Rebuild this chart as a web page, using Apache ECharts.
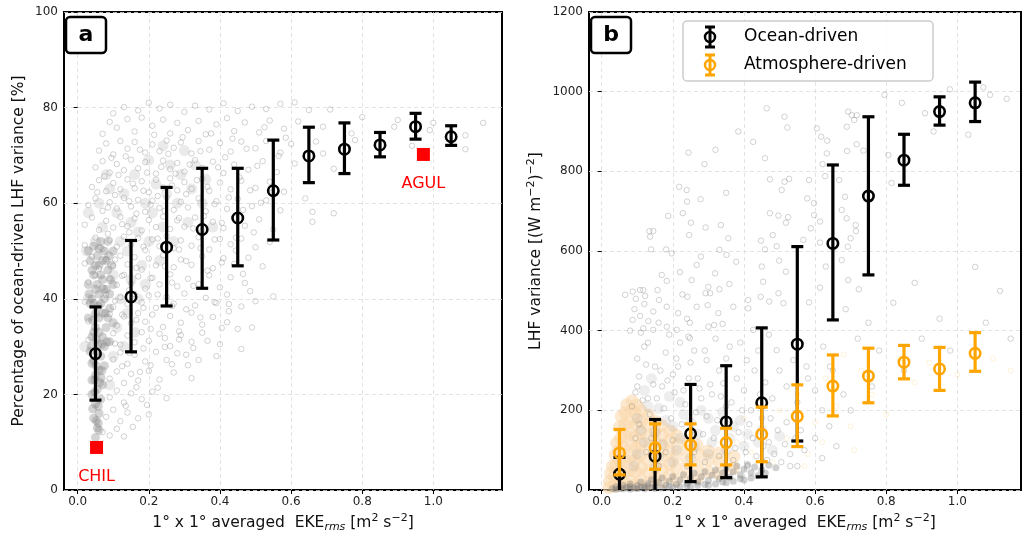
<!DOCTYPE html>
<html><head><meta charset="utf-8">
<script src="https://cdn.jsdelivr.net/npm/echarts@6/dist/echarts.min.js"></script>
<style>html,body{margin:0;padding:0;background:#fff}#c{width:1023px;height:539px}</style>
</head><body><div id="c"></div>
<script>
// ---- DATA ----
const binX = [0.05,0.15,0.25,0.35,0.45,0.55,0.65,0.75,0.85,0.95,1.05];
// panel a: ocean-driven fraction [%]
const aMean = [28.5,40.4,50.8,54.5,56.9,62.6,69.9,71.3,72.2,76.0,73.9];
const aLo   = [18.8,28.9,38.5,42.2,46.9,52.3,64.3,66.2,69.7,73.4,72.1];
const aHi   = [38.3,52.2,63.3,67.3,67.3,73.2,75.9,76.8,74.8,78.8,76.2];
// panel b: LHF variance
const bOceanMean = [40,85,141,171,219,366,619,738,828,950,972];
const bOceanLo   = [-8,-10,21,31,33,123,427,540,765,916,925];
const bOceanHi   = [82,177,265,312,407,611,816,937,893,987,1024];
const bAtmMean = [93,106,113,119,140,185,261,286,321,304,343];
const bAtmLo   = [38,52,63,63,71,109,186,219,279,250,298];
const bAtmHi   = [152,166,166,155,208,264,339,356,363,358,395];
const sites = [{name:'AGUL', x:0.972, y:70.2},{name:'CHIL', x:0.053, y:8.9}];
const xTicks = [0,0.2,0.4,0.6,0.8,1.0];

// background grid-cell scatter
const aCore = [[0.05,11],[0.055,13],[0.06,12.5],[0.045,15],[0.06,16],[0.05,18],[0.065,19],[0.04,20],[0.055,21],[0.07,22],[0.04,23],[0.06,25],[0.075,26],[0.045,27],[0.035,29],[0.055,29],[0.075,30],[0.09,31],[0.04,32],[0.06,33],[0.08,34],[0.1,35],[0.03,36],[0.05,37],[0.07,37],[0.09,38],[0.04,40],[0.06,41],[0.08,42],[0.1,43],[0.03,43],[0.045,45],[0.065,45],[0.085,46],[0.035,48],[0.055,49],[0.075,50],[0.05,24],[0.065,28],[0.05,34],[0.065,39],[0.055,43],[0.045,39],
[0.052,14.5],[0.058,17.5],[0.048,20.5],[0.062,22.5],[0.052,26],[0.068,25],[0.04,26.5],[0.058,30.5],[0.045,33],[0.07,32],[0.085,36],[0.035,39],[0.06,36],[0.075,40],[0.09,41],[0.05,42],[0.07,44],[0.04,46],[0.06,47],[0.08,48],[0.095,47],[0.045,51],[0.065,52],[0.085,52],
[0.042,17],[0.058,14],[0.048,23],[0.066,23.5],[0.038,30],[0.068,30.5],[0.082,31],[0.052,31.5],[0.042,35.5],[0.078,37],[0.058,38.5],[0.032,41],[0.072,42],[0.092,44],[0.05,47],[0.07,48],[0.088,49],[0.03,50],[0.06,50.5],[0.1,50]];
const aMid = [[0.02,30],[0.03,40],[0.025,50],[0.03,58],[0.09,22],[0.1,28],[0.11,34],[0.12,40],[0.1,45],[0.12,52],[0.11,58],[0.09,63],[0.13,30],[0.14,37],[0.15,44],[0.14,50],[0.15,56],[0.13,62],[0.17,40],[0.18,47],[0.17,54],[0.19,60],[0.16,66],[0.2,52],[0.21,58],[0.22,64],[0.2,69],[0.24,55],[0.25,62],[0.26,68],[0.24,72],[0.28,60],[0.29,66],[0.3,71],[0.32,63],[0.33,68],[0.35,60],[0.07,55],[0.06,60],[0.08,66],[0.05,52],[0.19,43],[0.23,48],[0.27,52],[0.31,56],[0.36,65],[0.38,55],[0.16,33]];
const aSparse = [[0.1,78.8],[0.13,80.1],[0.17,79.4],[0.2,81],[0.23,79.8],[0.26,80.6],[0.3,79.1],[0.33,80.4],[0.37,79.6],[0.41,80.9],[0.45,79.3],[0.49,80.2],[0.53,79.7],[0.57,80.8],[0.61,81.1],[0.65,79.5],[0.71,79.6],[0.8,78],[0.9,77.4],[1.0,76.8],[1.14,76.8],
[0.07,74.5],[0.09,77],[0.11,75.8],[0.14,77.6],[0.16,75],[0.18,77.9],[0.21,76.2],[0.24,77.5],[0.26,74.6],[0.28,76.8],[0.31,75.3],[0.34,77.2],[0.36,74.4],[0.39,76.5],[0.42,77.8],[0.44,75.1],[0.47,76.9],[0.51,74.8],[0.54,77.3],[0.58,75.6],[0.62,77.1],[0.69,76],[0.77,74.6],[0.89,76],[0.99,75.3],[1.09,74.2],
[0.06,71],[0.08,72.5],[0.1,70.2],[0.12,73],[0.14,71.4],[0.16,72.8],[0.19,70.6],[0.21,72.3],[0.23,70.9],[0.25,73.1],[0.27,71.6],[0.29,72.7],[0.32,70.4],[0.34,73],[0.37,71.2],[0.4,72.6],[0.43,70.8],[0.46,72.9],[0.5,71.5],[0.53,73],[0.57,70.6],[0.6,72.4],[0.67,72.9],[0.69,70.4],[0.78,73.2],[0.94,72],[1.09,71.3],
[0.05,67.5],[0.07,68.8],[0.09,66.4],[0.11,68.2],[0.13,66.9],[0.15,69.1],[0.17,67.3],[0.19,68.6],[0.22,66.2],[0.24,68.9],[0.26,67.1],[0.28,68.4],[0.3,66.6],[0.33,69],[0.35,67.4],[0.38,68.7],[0.41,66.3],[0.44,68.1],[0.48,67],[0.52,68.8],[0.56,66.5],[0.61,68.3],[0.72,67.2],
[0.04,63.4],[0.06,64.8],[0.08,62.5],[0.1,64.2],[0.12,62.9],[0.14,65],[0.16,63.1],[0.18,64.6],[0.2,62.3],[0.22,64.9],[0.24,63.3],[0.26,65.2],[0.28,62.7],[0.3,64.4],[0.32,63],[0.35,65.1],[0.37,62.6],[0.4,64.3],[0.43,62.9],[0.46,64.7],[0.5,63.2],[0.54,64.5],[0.58,62.4],[0.64,61],
[0.03,59.6],[0.05,61],[0.07,58.4],[0.09,60.2],[0.11,58.9],[0.13,61.1],[0.15,59.3],[0.17,60.7],[0.19,58.2],[0.21,60.5],[0.23,59],[0.25,61.2],[0.27,58.6],[0.29,60.3],[0.31,59.1],[0.34,61],[0.36,58.3],[0.39,60.4],[0.42,58.8],[0.45,60.9],[0.49,59.4],[0.53,60.6],[0.57,58.5],[0.66,58.2],[0.72,57.9],
[0.02,55.5],[0.04,57],[0.06,54.4],[0.08,56.3],[0.1,54.9],[0.12,57.1],[0.14,55.2],[0.16,56.8],[0.18,54.3],[0.2,56.5],[0.22,55],[0.24,57.2],[0.26,54.6],[0.28,56.4],[0.3,55.1],[0.33,57],[0.35,54.2],[0.38,56.1],[0.41,54.8],[0.44,56.9],[0.47,55.3],[0.51,56.6],[0.55,54.5],[0.66,56.1],
[0.02,51.2],[0.05,52.8],[0.07,50.4],[0.09,52.3],[0.11,50.9],[0.13,53],[0.15,51.3],[0.17,52.7],[0.19,50.2],[0.21,52.4],[0.23,51],[0.25,53.1],[0.27,50.6],[0.29,52.2],[0.32,51.1],[0.34,52.9],[0.37,50.3],[0.4,52.5],[0.43,51.4],[0.46,52.6],[0.5,50.8],[0.54,51.9],
[0.02,47.4],[0.04,48.8],[0.06,46.3],[0.08,48.3],[0.1,46.9],[0.12,49],[0.14,47.2],[0.16,48.7],[0.18,46.1],[0.2,48.4],[0.22,47],[0.24,49.1],[0.27,46.6],[0.29,48.2],[0.32,47.1],[0.35,48.9],[0.38,46.4],[0.41,48.5],[0.44,47.3],[0.48,48.6],[0.52,46.8],
[0.03,43.5],[0.05,44.9],[0.07,42.4],[0.09,44.3],[0.11,42.9],[0.13,45],[0.15,43.2],[0.17,44.7],[0.19,42.1],[0.21,44.4],[0.23,43],[0.26,45.1],[0.28,42.6],[0.31,44.2],[0.34,43.1],[0.37,44.9],[0.4,42.4],[0.43,44.5],[0.47,43.3],[0.55,40.5],
[0.02,39.4],[0.08,40.8],[0.1,38.3],[0.12,40.3],[0.14,38.9],[0.16,41],[0.18,39.2],[0.2,40.7],[0.22,38.1],[0.25,40.4],[0.27,39],[0.3,41.1],[0.33,38.6],[0.36,40.2],[0.39,39.1],[0.42,40.9],[0.46,38.4],[0.5,39.5],
[0.03,35.3],[0.09,36.8],[0.11,34.4],[0.13,36.3],[0.15,34.9],[0.17,37],[0.19,35.2],[0.21,36.7],[0.24,34.1],[0.26,36.4],[0.29,35],[0.32,37.1],[0.35,34.6],[0.38,36.2],[0.42,35.1],[0.45,33.7],[0.49,34],
[0.03,31.4],[0.1,32.8],[0.12,30.4],[0.14,32.3],[0.16,30.9],[0.18,33],[0.2,31.2],[0.23,32.7],[0.26,30.1],[0.29,32.4],[0.32,31],[0.35,32.9],[0.4,30.5],[0.46,29.5],
[0.1,27.3],[0.12,28.8],[0.14,26.4],[0.16,28.3],[0.19,26.9],[0.22,28.9],[0.25,27.2],[0.28,28.6],[0.31,26.1],[0.34,27.2],[0.39,28],
[0.09,23.3],[0.11,24.8],[0.13,22.4],[0.15,24.3],[0.17,22.9],[0.2,24.9],[0.23,23.1],[0.27,24.6],[0.32,23.4],
[0.09,19.4],[0.11,20.8],[0.13,18.3],[0.15,20.2],[0.18,19],[0.21,20.6],[0.25,19.2],
[0.08,15.3],[0.1,16.8],[0.12,14.4],[0.14,16.2],[0.17,15],[0.2,15.8],
[0.07,12.1],[0.09,11.4],[0.11,12.8],[0.13,11.2]];
const aSparse2 = [[0.055,62.3],[0.075,65.6],[0.085,59.1],[0.095,69.5],[0.105,61.7],[0.115,65.9],[0.125,55.6],[0.135,69.8],[0.145,60.4],[0.155,64.1],[0.165,57.8],[0.175,71.2],[0.185,62.6],[0.195,66.4],[0.205,59.7],[0.215,74.3],[0.225,61.5],[0.235,67.6],[0.245,58.4],[0.255,70.3],[0.265,63.7],[0.275,66.2],[0.285,56.9],[0.295,73.8],[0.305,61.9],[0.315,68.1],[0.325,54.7],[0.335,64.8],[0.345,70.9],[0.355,57.3],[0.365,63.4],[0.375,74.6],[0.385,59.8],[0.395,67.5],[0.405,55.9],[0.415,69.6],[0.425,61.2],[0.435,73.5],[0.445,52.8],[0.455,65.4],[0.465,58.6],[0.475,71.4],[0.485,62.7],[0.495,53.9],[0.505,67.8],[0.515,60.1],[0.525,75.9],[0.545,62.2],[0.565,69.9],[0.585,73.7],
[0.065,50.7],[0.085,53.6],[0.105,48.2],[0.125,44.8],[0.145,53.9],[0.165,46.5],[0.185,50.9],[0.205,44.3],[0.225,52.6],[0.245,46.8],[0.265,43.4],[0.285,50.3],[0.305,47.9],[0.325,42.7],[0.345,50.6],[0.365,45.9],[0.385,52.4],[0.405,47.6],[0.425,38.9],[0.445,50.1],[0.465,45.2],[0.485,41.6],
[0.105,39.6],[0.125,36.7],[0.145,41.8],[0.165,35.6],[0.185,38.1],[0.205,33.7],[0.225,40.9],[0.245,31.8],[0.265,38.5],[0.285,33.2],[0.305,37.8],[0.325,29.7],[0.345,36.1],[0.365,31.2],[0.385,39.3],[0.405,33.9],[0.425,37.4],
[0.105,30.6],[0.125,25.9],[0.145,28.7],[0.165,21.5],[0.185,29.6],[0.205,26.1],[0.225,21.4],[0.245,29.9],[0.265,26.3],[0.285,31.5],[0.305,28.3],[0.135,17.6],[0.155,13.2],[0.175,24.7],[0.195,17.8]];

const bAtmDense = [[0.02,6],[0.022,22],[0.025,42],[0.03,60],[0.035,10],[0.036,34],[0.04,62],[0.038,88],[0.042,118],[0.05,12],[0.05,40],[0.052,70],[0.048,100],[0.053,130],[0.05,158],[0.055,185],[0.065,16],[0.064,45],[0.066,76],[0.063,106],[0.067,136],[0.064,166],[0.066,195],[0.07,214],[0.08,22],[0.081,50],[0.079,80],[0.082,110],[0.08,141],[0.078,170],[0.083,200],[0.085,224],[0.095,14],[0.096,46],[0.094,75],[0.097,106],[0.095,134],[0.096,166],[0.094,194],[0.098,214],[0.11,26],[0.112,56],[0.108,86],[0.111,116],[0.11,146],[0.113,174],[0.11,200],[0.13,15],[0.131,45],[0.129,76],[0.132,105],[0.13,134],[0.128,164],[0.132,188],[0.15,30],[0.152,60],[0.148,90],[0.151,120],[0.15,148],[0.152,172],[0.17,20],[0.171,50],[0.169,80],[0.172,110],[0.17,138],[0.168,162],[0.19,35],[0.191,65],[0.189,95],[0.19,124],[0.192,148],[0.21,25],[0.211,55],[0.209,85],[0.212,114],[0.21,138],[0.24,40],[0.241,70],[0.239,98],[0.242,123],[0.27,30],[0.27,60],[0.272,90],[0.268,113],[0.3,45],[0.301,74],[0.299,98],[0.33,40],[0.331,70],[0.329,93],[0.37,55],[0.372,84]];
const bAtmSparse = [[0.38,120],[0.42,95],[0.45,150],[0.48,70],[0.5,200],[0.52,130],[0.55,240],[0.58,90],[0.6,170],[0.63,280],[0.66,210],[0.7,160],[0.73,300],[0.76,240],[0.8,190],[0.84,330],[0.88,270],[0.92,320],[1.0,290],[1.1,330],[1.15,300],[0.4,180],[0.35,150],[0.44,220],[0.62,120],[0.68,340],[0.71,100],[0.57,60]];
const bGrayDense = [[0.03,3],[0.04,8],[0.05,4],[0.06,12],[0.07,6],[0.08,15],[0.09,5],[0.1,11],[0.11,20],[0.12,8],[0.13,16],[0.14,26],[0.15,10],[0.16,19],[0.17,30],[0.18,12],[0.19,22],[0.2,34],[0.21,14],[0.22,25],[0.23,38],[0.24,17],[0.25,29],[0.26,42],[0.27,20],[0.28,33],[0.29,46],[0.3,24],[0.31,37],[0.32,50],[0.33,28],[0.34,42],[0.35,55],[0.36,32],[0.37,46],[0.38,60],[0.39,38],[0.4,52],[0.41,64],[0.42,44],[0.43,58],[0.45,50],[0.47,62],[0.49,56],[0.1,3],[0.15,4],[0.2,6],[0.25,9],[0.3,12],[0.06,3],[0.35,18],[0.4,25],
[0.04,2],[0.08,2],[0.12,3],[0.14,6],[0.17,5],[0.19,8],[0.22,8],[0.24,10],[0.27,12],[0.29,14],[0.32,15],[0.34,20],[0.37,22],[0.39,28],[0.42,30],[0.44,36],[0.46,42],[0.08,8],[0.11,7],[0.13,10]];
const bGrayMid = [[0.09,60],[0.1,90],[0.12,120],[0.11,150],[0.1,180],[0.13,210],[0.12,250],[0.14,280],[0.15,55],[0.16,85],[0.17,115],[0.15,145],[0.18,175],[0.16,205],[0.19,235],[0.2,70],[0.21,100],[0.22,130],[0.2,160],[0.23,190],[0.22,220],[0.25,80],[0.26,110],[0.27,140],[0.25,170],[0.28,200],[0.3,90],[0.31,120],[0.32,150],[0.3,180],[0.35,100],[0.36,130],[0.37,160],[0.34,195],[0.4,110],[0.41,140],[0.39,175],[0.44,120],[0.45,150],[0.48,100],[0.5,135]];
const bGraySparse = [[0.464,958],[0.384,900],[0.514,937],[0.522,910],[0.426,874],[0.459,833],[0.244,847],[0.32,854],[0.289,818],[0.218,761],[0.239,753],[0.24,724],[0.278,730],[0.35,746],[0.187,688],[0.228,695],[0.134,650],[0.145,650],[0.136,636],[0.139,604],[0.181,604],[0.197,594],[0.251,671],[0.246,640],[0.292,659],[0.335,665],[0.356,632],[0.331,603],[0.351,590],[0.378,573],[0.279,586],[0.267,565],[0.473,695],[0.497,689],[0.481,640],[0.448,626],[0.459,604],[0.514,774],[0.506,753],[0.527,781],[0.473,780],[0.583,778],[0.518,671],[0.524,685],[0.492,612],[0.45,561],[0.499,576],[0.518,548],[0.605,908],[0.617,887],[0.634,877],[0.633,845],[0.621,818],[0.689,912],[0.703,941],[0.717,941],[0.71,929],[0.717,868],[0.736,852],[0.69,851],[0.628,788],[0.668,778],[0.684,736],[0.675,703],[0.689,682],[0.597,720],[0.578,732],[0.588,657],[0.597,690],[0.614,674],[0.567,628],[0.614,621],[0.714,665],[0.715,650],[0.70,632],[0.692,611],[0.675,577],[0.63,561],[0.614,508],[0.693,527],[0.686,454],[0.723,504],[0.583,471],
[0.066,490],[0.087,498],[0.108,502],[0.117,502],[0.096,480],[0.122,487],[0.092,454],[0.108,437],[0.087,427],[0.12,467],[0.145,448],[0.157,502],[0.161,477],[0.169,540],[0.183,525],[0.131,424],[0.145,402],[0.183,410],[0.215,444],[0.227,491],[0.241,485],[0.22,547],[0.253,527],[0.267,460],[0.292,494],[0.3,510],[0.319,544],[0.331,504],[0.298,464],[0.328,444],[0.359,517],[0.316,414],[0.34,417],[0.248,420],[0.211,402],[0.244,385],[0.412,477],[0.412,456],[0.447,485],[0.471,473],[0.497,494],
[0.979,1006],[1.073,1011],[1.092,992],[1.139,982],[1.031,892],[0.933,900],[0.844,972],[0.795,992],[0.909,946],[0.806,841],[0.815,771],[0.693,950],
[0.183,460],[0.117,406],[0.248,381],[0.305,494],[0.37,460],[0.454,523],[0.426,402],[0.492,351],[0.539,326],[0.576,310],[0.623,360],[0.642,310],[0.511,469],[0.408,326],[0.295,326],[0.342,268],
[0.1,330],[0.12,360],[0.15,310],[0.18,345],[0.2,290],[0.22,370],[0.25,320],[0.27,280],[0.29,350],[0.33,300],[0.36,360],[0.38,280],[0.4,250],[0.43,300],[0.46,270],[0.48,230],[0.5,300],[0.52,260],[0.55,220],[0.58,280],[0.6,250],[0.62,200],[0.65,300],[0.68,240],[0.72,380],[0.75,420],[0.78,350],[0.82,470],[0.88,520],[0.95,430],[1.05,560],[1.12,500],[0.08,400],[0.1,260],[0.13,230],[0.17,260],[0.23,250],[0.28,230],[0.31,240],[0.35,210],[0.42,200],[0.45,180],[0.52,170],[0.56,150],[0.6,130],[0.64,160],[0.7,200],[0.76,260],[0.85,300],[0.9,380],[0.98,350],[1.08,420],[1.15,380],[0.47,120],[0.53,90],[0.57,100],[0.62,80],[0.66,110],[0.55,60]];
const bGraySparse2 = [[0.085,210],[0.095,245],[0.105,285],[0.115,225],[0.125,315],[0.135,190],[0.145,265],[0.155,230],[0.165,300],[0.175,205],[0.185,275],[0.195,180],[0.205,245],[0.215,310],[0.225,165],[0.235,215],[0.245,280],[0.255,150],[0.265,195],[0.275,255],[0.285,140],[0.295,185],[0.305,265],[0.315,130],[0.325,175],[0.335,235],[0.345,120],[0.355,165],[0.365,220],[0.375,105],[0.385,145],[0.395,200],[0.405,95],[0.415,165],[0.425,130],[0.435,85],[0.445,240],[0.455,110],[0.465,75],[0.475,180],[0.485,90],[0.495,150],[0.505,70],[0.515,115],[0.53,60],[0.545,130],[0.11,395],[0.13,370],[0.16,420],[0.19,390],[0.21,330],[0.24,430],[0.26,350],[0.3,410],[0.32,380],[0.35,330],[0.39,370],[0.44,350],[0.47,390],[0.095,130],[0.105,165],[0.125,95],[0.14,130],[0.16,60],[0.18,95],[0.2,125],[0.24,60],[0.26,95],[0.29,70],[0.33,85],[0.37,75],[0.41,60]];

// ---- CHART ----
const FONT = 'DejaVu Sans';
const chart = echarts.init(document.getElementById('c'), null, {renderer:'canvas'});
const xTitle = '1° x 1° averaged  EKE{sub|rms} [m{sup|2} s{sup|−2}]';
const richT = {
  sub:{fontSize:11, fontStyle:'italic', fontFamily:FONT, color:'#111', verticalAlign:'bottom', lineHeight:20},
  sup:{fontSize:11, fontFamily:FONT, color:'#111', verticalAlign:'top', lineHeight:20}
};
const gridLine = {show:true, lineStyle:{color:'#dcdcdc', type:[4,3], width:0.8}};
function xAxisCfg(idx, min, max){
  return {gridIndex:idx, type:'value', min:min, max:max,
    name:xTitle, nameLocation:'middle', nameGap:23,
    nameTextStyle:{fontFamily:FONT, fontSize:15.5, color:'#111', rich:richT, lineHeight:20},
    axisLine:{show:false},
    axisTick:{show:true, customValues:xTicks, length:4, lineStyle:{color:'#000', width:1}},
    axisLabel:{customValues:xTicks, fontFamily:FONT, fontSize:12, color:'#222', margin:6, formatter:v=>v.toFixed(1)},
    splitLine:gridLine};
}
function yAxisCfg(idx, max, interval, name, gap){
  return {gridIndex:idx, type:'value', min:0, max:max, interval:interval,
    name:name, nameLocation:'middle', nameGap:gap,
    nameTextStyle:{fontFamily:FONT, fontSize:15.5, color:'#111', rich:richT, lineHeight:20},
    axisLine:{show:false},
    axisTick:{show:true, length:4, lineStyle:{color:'#000', width:1}},
    axisLabel:{fontFamily:FONT, fontSize:12, color:'#222', margin:6, formatter:v=>String(v)},
    splitLine:gridLine};
}
function errSeries(xi, yi, mean, lo, hi, color, z){
  const data = binX.map((x,i)=>[x, mean[i], lo[i], hi[i]]);
  return {type:'custom', xAxisIndex:xi, yAxisIndex:yi, clip:true, z:z, silent:true,
    data:data,
    renderItem:function(params, api){
      const x=api.value(0), m=api.value(1), l=api.value(2), h=api.value(3);
      const pl=api.coord([x,l]), ph=api.coord([x,h]), pm=api.coord([x,m]);
      const cw=6;
      return {type:'group', children:[
        {type:'line', shape:{x1:pl[0],y1:pl[1],x2:ph[0],y2:ph[1]}, style:{stroke:color, lineWidth:3.2}},
        {type:'line', shape:{x1:pl[0]-cw,y1:pl[1],x2:pl[0]+cw,y2:pl[1]}, style:{stroke:color, lineWidth:3.2}},
        {type:'line', shape:{x1:ph[0]-cw,y1:ph[1],x2:ph[0]+cw,y2:ph[1]}, style:{stroke:color, lineWidth:3.2}},
        {type:'circle', shape:{cx:pm[0], cy:pm[1], r:5.2}, style:{fill:'none', stroke:color, lineWidth:2.6}}
      ]};
    }};
}
function scat(xi, yi, data, opt){
  return Object.assign({type:'scatter', xAxisIndex:xi, yAxisIndex:yi, data:data, silent:true, animation:false, symbol:'circle'}, opt);
}
const hollowGray = {symbolSize:5.5, itemStyle:{color:'rgba(0,0,0,0)', borderColor:'rgba(120,120,120,0.33)', borderWidth:1, opacity:1}, z:1};
function legendGlyph(y, color){
  const zz = 102;
  return [
    {type:'line', z:zz, shape:{x1:710,y1:y-10,x2:710,y2:y+10}, style:{stroke:color, lineWidth:3}},
    {type:'line', z:zz, shape:{x1:705,y1:y-10,x2:715,y2:y-10}, style:{stroke:color, lineWidth:3}},
    {type:'line', z:zz, shape:{x1:705,y1:y+10,x2:715,y2:y+10}, style:{stroke:color, lineWidth:3}},
    {type:'circle', z:zz, shape:{cx:710,cy:y,r:5}, style:{fill:'none', stroke:color, lineWidth:2.5}}
  ];
}

const option = {
  animation:false,
  backgroundColor:'#fff',
  grid:[
    {left:64, top:12, width:438, height:478, show:true, borderColor:'#000', borderWidth:2, backgroundColor:'rgba(0,0,0,0)'},
    {left:589, top:12, width:432, height:478, show:true, borderColor:'#000', borderWidth:2, backgroundColor:'rgba(0,0,0,0)'}
  ],
  xAxis:[xAxisCfg(0,-0.0385,1.193), xAxisCfg(1,-0.0357,1.179)],
  yAxis:[yAxisCfg(0,100,20,'Percentage of ocean-driven LHF variance [%]',35),
         yAxisCfg(1,1200,200,'LHF variance [(W m{sup|−2}){sup|−2}]',43)],
  series:[
    scat(0,0,aSparse, hollowGray),
    scat(0,0,aSparse2, hollowGray),
    scat(0,0,aMid, {symbolSize:11, itemStyle:{color:'rgba(150,150,150,0.2)', opacity:1}, z:1}),
    scat(0,0,aCore, {symbolSize:9, itemStyle:{color:'rgba(128,128,128,0.34)', opacity:1}, z:1}),
    errSeries(0,0,aMean,aLo,aHi,'#000',5),
    scat(0,0,sites.map(s=>({name:s.name, value:[s.x,s.y]})), {symbol:'rect', symbolSize:13, z:6,
      itemStyle:{color:'#ff0000', opacity:1},
      label:{show:true, position:'bottom', distance:15, formatter:p=>p.name, color:'#ff0000', fontFamily:FONT, fontSize:16}}),
    scat(1,1,bAtmDense, {symbolSize:13, itemStyle:{color:'rgba(250,215,170,0.55)', opacity:1}, z:1}),
    scat(1,1,bAtmSparse, {symbolSize:5, itemStyle:{color:'rgba(0,0,0,0)', borderColor:'rgba(255,165,0,0.15)', borderWidth:1, opacity:1}, z:1}),
    scat(1,1,bGraySparse, hollowGray),
    scat(1,1,bGraySparse2, hollowGray),
    scat(1,1,bGrayMid, {symbolSize:11, itemStyle:{color:'rgba(150,150,150,0.16)', opacity:1}, z:1}),
    scat(1,1,bGrayDense, {symbolSize:7, itemStyle:{color:'rgba(110,110,110,0.32)', opacity:1}, z:1}),
    errSeries(1,1,bOceanMean,bOceanLo,bOceanHi,'#000',5),
    errSeries(1,1,bAtmMean,bAtmLo,bAtmHi,'#ffa500',6)
  ],
  graphic:[
    {type:'rect', z:100, shape:{x:66,y:17,width:40,height:36,r:4}, style:{fill:'#fff', stroke:'#000', lineWidth:2.5}},
    {type:'text', z:101, x:86, y:35, style:{text:'a', font:'bold 22px "DejaVu Sans"', fill:'#000', align:'center', verticalAlign:'middle'}},
    {type:'rect', z:100, shape:{x:591,y:17,width:40,height:36,r:4}, style:{fill:'#fff', stroke:'#000', lineWidth:2.5}},
    {type:'text', z:101, x:611, y:35, style:{text:'b', font:'bold 22px "DejaVu Sans"', fill:'#000', align:'center', verticalAlign:'middle'}},
    {type:'rect', z:100, shape:{x:683,y:21,width:250,height:60,r:4}, style:{fill:'rgba(255,255,255,0.8)', stroke:'#cccccc', lineWidth:1.5}},
    ...legendGlyph(37,'#000'),
    ...legendGlyph(65,'#ffa500'),
    {type:'text', z:102, x:744, y:37, style:{text:'Ocean-driven', font:'17px "DejaVu Sans"', fill:'#000', verticalAlign:'middle'}},
    {type:'text', z:102, x:744, y:65, style:{text:'Atmosphere-driven', font:'17px "DejaVu Sans"', fill:'#000', verticalAlign:'middle'}}
  ]
};
chart.setOption(option);
</script></body></html>
